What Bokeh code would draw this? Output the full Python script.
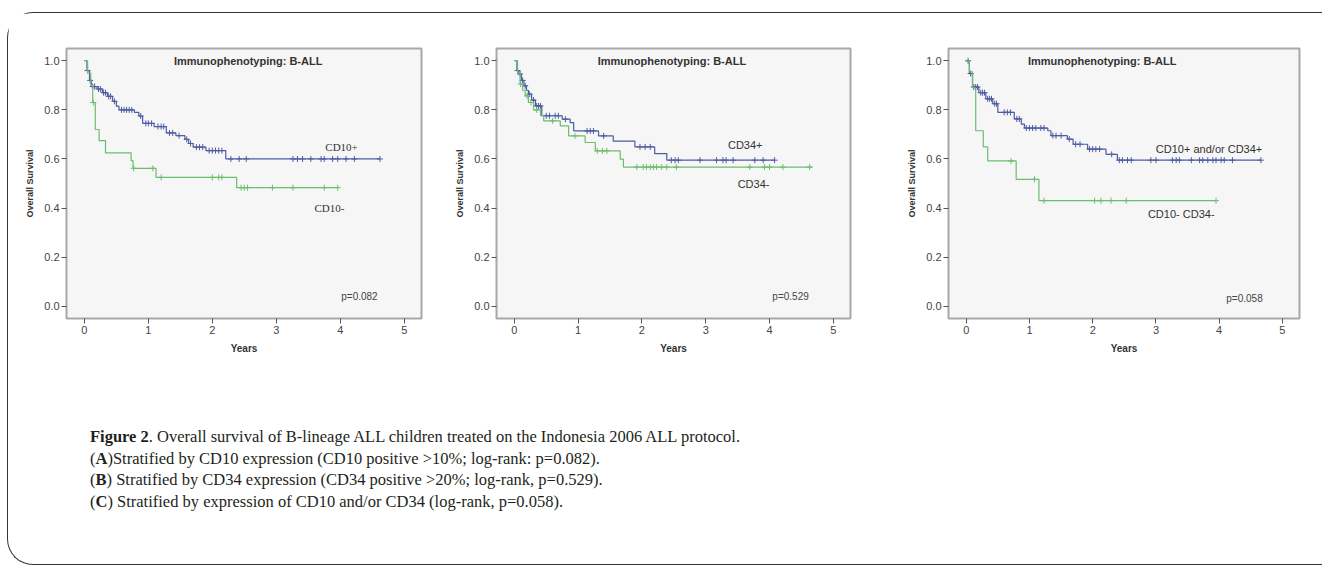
import numpy as np
from bokeh.plotting import figure
from bokeh.layouts import row, column
from bokeh.models import Div, Range1d, FixedTicker
from bokeh.embed import file_html
from bokeh.resources import INLINE
from bokeh.core.properties import value

# ---------------- data ----------------
x_ticks = [0, 1, 2, 3, 4, 5]
x_tick_labels = ["0", "1", "2", "3", "4", "5"]
y_ticks = [0.0, 0.2, 0.4, 0.6, 0.8, 1.0]
y_tick_labels = ["0.0", "0.2", "0.4", "0.6", "0.8", "1.0"]

panel_title = "Immunophenotyping: B-ALL"
x_label = "Years"
y_label = "Overall Survival"

# Panel A: CD10+
a_pos_t = [0, 0.04, 0.08, 0.11, 0.20, 0.28, 0.36, 0.44, 0.50, 0.54, 0.78, 0.85, 0.91,
           1.09, 1.28, 1.43, 1.57, 1.63, 1.70, 1.90, 2.21, 4.62]
a_pos_s = [1.0, 0.96, 0.92, 0.895, 0.885, 0.87, 0.855, 0.835, 0.815, 0.80, 0.79, 0.775, 0.745,
           0.732, 0.706, 0.695, 0.68, 0.663, 0.648, 0.634, 0.60, 0.60]
a_pos_cens = [0.05, 0.09, 0.13, 0.16, 0.22, 0.25, 0.30, 0.33, 0.38, 0.41, 0.47, 0.58, 0.62, 0.66,
              0.70, 0.74, 0.88, 0.96, 1.00, 1.05, 1.15, 1.20, 1.24, 1.33, 1.38, 1.48, 1.60, 1.66,
              1.75, 1.80, 1.85, 1.95, 2.00, 2.05, 2.10, 2.15, 2.29, 2.42, 2.53, 3.26, 3.33, 3.41,
              3.54, 3.70, 3.75, 3.88, 3.96, 4.09, 4.22, 4.62]
# Panel A: CD10-
a_neg_t = [0, 0.05, 0.10, 0.13, 0.17, 0.23, 0.33, 0.73, 0.76, 1.12, 2.38, 3.96]
a_neg_s = [1.0, 0.95, 0.90, 0.83, 0.72, 0.675, 0.625, 0.593, 0.562, 0.525, 0.483, 0.483]
a_neg_cens = [0.14, 0.77, 1.07, 1.20, 2.00, 2.10, 2.15, 2.45, 2.50, 2.55, 2.94, 3.26, 3.75, 3.96]

# Panel B: CD34+
b_pos_t = [0, 0.04, 0.07, 0.11, 0.15, 0.19, 0.22, 0.27, 0.33, 0.43, 0.75, 0.875, 0.93,
           1.32, 1.55, 1.89, 2.20, 2.39, 4.08]
b_pos_s = [1.0, 0.96, 0.946, 0.92, 0.898, 0.88, 0.864, 0.84, 0.816, 0.776, 0.762, 0.748, 0.714,
           0.694, 0.673, 0.649, 0.622, 0.595, 0.595]
b_pos_cens = [0.05, 0.09, 0.13, 0.17, 0.24, 0.30, 0.35, 0.38, 0.41, 0.50, 0.55, 0.64, 0.69, 0.80,
              1.14, 1.19, 1.24, 1.40, 1.97, 2.05, 2.13, 2.46, 2.52, 2.57, 2.91, 3.17, 3.27, 3.32,
              3.43, 3.77, 3.90, 4.08]
# Panel B: CD34-
b_neg_t = [0, 0.05, 0.09, 0.13, 0.17, 0.22, 0.30, 0.41, 0.46, 0.72, 0.85, 1.11, 1.27, 1.66, 1.71, 4.67]
b_neg_s = [1.0, 0.95, 0.905, 0.88, 0.857, 0.83, 0.80, 0.776, 0.755, 0.735, 0.694, 0.667, 0.633,
           0.599, 0.567, 0.567]
b_neg_cens = [0.10, 0.20, 0.26, 0.35, 0.60, 0.95, 1.30, 1.38, 1.45, 1.92, 2.02, 2.07, 2.13, 2.18,
              2.23, 2.31, 2.39, 2.54, 3.69, 3.92, 4.00, 4.21, 4.63]

# Panel C: CD10+ and/or CD34+
c_pos_t = [0, 0.05, 0.10, 0.20, 0.31, 0.42, 0.50, 0.76, 0.87, 0.92, 1.29, 1.34, 1.60, 1.69,
           1.92, 2.21, 2.39, 4.66]
c_pos_s = [1.0, 0.948, 0.893, 0.87, 0.845, 0.825, 0.79, 0.763, 0.742, 0.726, 0.715, 0.695, 0.681,
           0.66, 0.64, 0.619, 0.595, 0.595]
c_pos_cens = [0.03, 0.07, 0.12, 0.15, 0.18, 0.23, 0.26, 0.29, 0.34, 0.37, 0.40, 0.45, 0.48, 0.60,
              0.65, 0.70, 0.80, 0.84, 0.95, 1.00, 1.05, 1.10, 1.18, 1.23, 1.37, 1.42, 1.50, 1.63,
              1.73, 1.80, 1.95, 2.00, 2.05, 2.11, 2.30, 2.42, 2.47, 2.55, 2.61, 2.92, 3.00, 3.26,
              3.32, 3.37, 3.56, 3.69, 3.74, 3.82, 3.90, 3.95, 4.03, 4.08, 4.21, 4.66]
# Panel C: CD10- CD34-
c_neg_t = [0, 0.05, 0.10, 0.15, 0.27, 0.34, 0.79, 1.15, 3.95]
c_neg_s = [1.0, 0.955, 0.89, 0.715, 0.649, 0.592, 0.517, 0.43, 0.43]
c_neg_cens = [0.71, 1.08, 1.23, 2.03, 2.13, 2.29, 2.53, 3.95]

group_labels_a = ["CD10+", "CD10-"]
group_labels_b = ["CD34+", "CD34-"]
group_labels_c = ["CD10+ and/or CD34+", "CD10- CD34-"]
p_values = ["p=0.082", "p=0.529", "p=0.058"]

caption_lines = [
    "<b>Figure 2</b>. Overall survival of B-lineage ALL children treated on the Indonesia 2006 ALL protocol.",
    "(<b>A</b>)Stratified by CD10 expression (CD10 positive &gt;10%; log-rank: p=0.082).",
    "(<b>B</b>) Stratified by CD34 expression (CD34 positive &gt;20%; log-rank, p=0.529).",
    "(<b>C</b>) Stratified by expression of CD10 and/or CD34 (log-rank, p=0.058).",
]

# ---------------- styling ----------------
BLUE = "#4f5ca4"
GREEN = "#6dbd70"
SANS = "Liberation Sans"


def step_value(ts, ss, tc):
    ts = np.asarray(ts)
    ss = np.asarray(ss)
    idx = np.searchsorted(ts, np.asarray(tc), side="right") - 1
    return ss[np.clip(idx, 0, len(ss) - 1)]


def make_panel(width, bl, br, curves, labels, pval, title_x):
    p = figure(width=width, height=365,
               x_range=Range1d(-0.28, 5.27), y_range=Range1d(-0.05, 1.05),
               output_backend="svg", toolbar_location=None,
               min_border_left=bl, min_border_right=br,
               min_border_top=35, min_border_bottom=60)
    p.background_fill_color = "#f6f6f6"
    p.border_fill_color = "white"
    p.outline_line_color = "#a8a8a8"
    p.outline_line_width = 2
    p.grid.visible = False

    p.xaxis.ticker = FixedTicker(ticks=x_ticks)
    p.xaxis.major_label_overrides = dict(zip(x_ticks, x_tick_labels))
    p.yaxis.ticker = FixedTicker(ticks=y_ticks)
    p.yaxis.major_label_overrides = dict(zip(y_ticks, y_tick_labels))
    for ax in (p.xaxis, p.yaxis):
        ax.axis_line_color = None
        ax.major_tick_line_color = "#555555"
        ax.major_tick_out = 5
        ax.major_tick_in = 0
        ax.minor_tick_line_color = None
        ax.major_label_text_font = SANS
        ax.major_label_text_font_size = "11px"
        ax.major_label_text_color = "#444444"
        ax.major_label_standoff = 2
        ax.axis_label_text_font = SANS
        ax.axis_label_text_font_style = "bold"
        ax.axis_label_text_color = "#333333"
        ax.axis_label_standoff = 6
    p.xaxis.axis_label = x_label
    p.xaxis.axis_label_text_font_size = "10px"
    p.yaxis.axis_label = y_label
    p.yaxis.axis_label_text_font_size = "9px"

    for (ts, ss, cens, col) in curves:
        p.step(ts, ss, mode="after", line_color=col, line_width=1.2)
        p.scatter(cens, step_value(ts, ss, cens), marker="cross", size=6,
                  line_color=col, line_width=1)

    p.text(x=[title_x], y=[1.0], text=[panel_title], text_font=value(SANS),
           text_font_style="bold", text_font_size="11px", text_color="#333333",
           text_align="center", text_baseline="middle")
    for (lx, ly, txt, font) in labels:
        p.text(x=[lx], y=[ly], text=[txt], text_font=value(font),
               text_font_size="11px", text_color="#333333",
               text_align="center", text_baseline="middle")
    p.text(x=[pval[0]], y=[pval[1]], text=[pval[2]], text_font=value(SANS),
           text_font_size="10px", text_color="#444444",
           text_align="center", text_baseline="middle")
    return p


pA = make_panel(440, 58, 27,
                [(a_pos_t, a_pos_s, a_pos_cens, BLUE), (a_neg_t, a_neg_s, a_neg_cens, GREEN)],
                [(4.02, 0.65, group_labels_a[0], "Liberation Serif"),
                 (3.83, 0.40, group_labels_a[1], "Liberation Serif")],
                (4.30, 0.04, p_values[0]), 2.56)
pB = make_panel(445, 48, 43,
                [(b_pos_t, b_pos_s, b_pos_cens, BLUE), (b_neg_t, b_neg_s, b_neg_cens, GREEN)],
                [(3.62, 0.655, group_labels_b[0], SANS),
                 (3.75, 0.50, group_labels_b[1], SANS)],
                (4.33, 0.04, p_values[1]), 2.47)
pC = make_panel(417, 55, 11,
                [(c_pos_t, c_pos_s, c_pos_cens, BLUE), (c_neg_t, c_neg_s, c_neg_cens, GREEN)],
                [(3.84, 0.64, group_labels_c[0], SANS),
                 (3.40, 0.375, group_labels_c[1], SANS)],
                (4.40, 0.03, p_values[2]), 2.15)

caption_html = ('<div style="margin:43px 0 0 77px; font-family:\'Liberation Serif\', serif; '
                'font-size:16.5px; line-height:21.7px; color:#231f20; white-space:nowrap;">'
                + "<br>".join(caption_lines) + "</div>")
cap = Div(text=caption_html, width=1290, height=170)

layout = column(row(pA, pB, pC, spacing=0), cap, spacing=0, width=1315, height=553,
                styles={"margin-left": "7px", "margin-top": "12px",
                        "border-top": "1.5px solid #333333",
                        "border-left": "1.5px solid #333333",
                        "border-bottom": "1.5px solid #333333",
                        "border-top-left-radius": "26px",
                        "border-bottom-left-radius": "26px",
                        "box-sizing": "border-box"})

open("out.html", "w").write(file_html(layout, INLINE))
